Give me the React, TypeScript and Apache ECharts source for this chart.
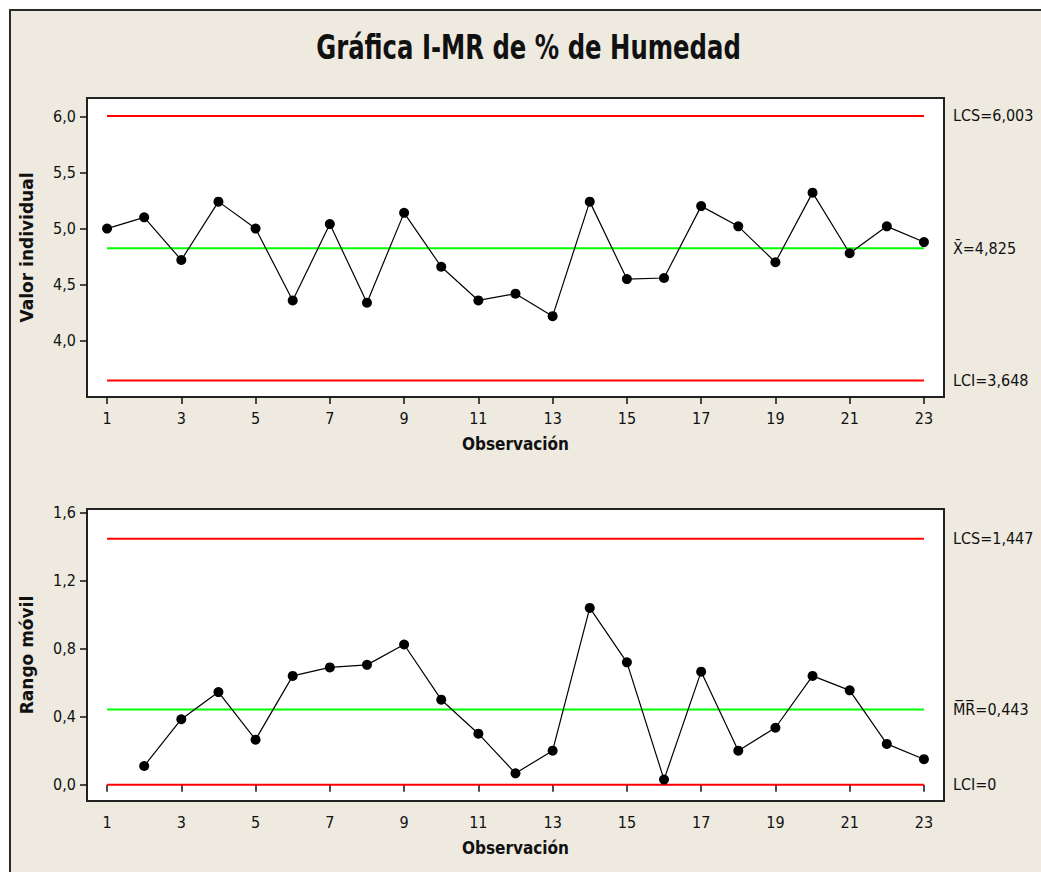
import React, { useEffect, useRef } from "react";
import * as echarts from "echarts";

// ---- Data ----
const observations = [1, 2, 3, 4, 5, 6, 7, 8, 9, 10, 11, 12, 13, 14, 15, 16, 17, 18, 19, 20, 21, 22, 23];
const individualValues = [5.0, 5.1, 4.72, 5.24, 5.0, 4.36, 5.04, 4.34, 5.14, 4.66, 4.36, 4.42, 4.22, 5.24, 4.55, 4.56, 5.2, 5.02, 4.7, 5.32, 4.78, 5.02, 4.88];
const movingRanges = [null, 0.11, 0.385, 0.545, 0.265, 0.64, 0.69, 0.705, 0.825, 0.5, 0.3, 0.067, 0.2, 1.04, 0.72, 0.03, 0.665, 0.2, 0.335, 0.64, 0.555, 0.24, 0.15];

const xTicks = [1, 3, 5, 7, 9, 11, 13, 15, 17, 19, 21, 23];
const iTicks = [4.0, 4.5, 5.0, 5.5, 6.0];
const mrTicks = [0.0, 0.4, 0.8, 1.2, 1.6];

const iLimitValues = [6.003, 4.825, 3.648];
const iLimitLabels = ["LCS=6,003", "X\u0304=4,825", "LCI=3,648"];
const mrLimitValues = [1.447, 0.443, 0];
const mrLimitLabels = ["LCS=1,447", "M\u0305R\u0305=0,443", "LCI=0"];
const limitColors = ["#FF0000", "#00FF00", "#FF0000"];

const TITLE = "Gráfica I-MR de % de Humedad";
const FONT = "'DejaVu Sans Condensed', 'Liberation Sans Narrow', 'DejaVu Sans', sans-serif";
const BG = "#EEEAE0";

const fmt1 = (v: number) => v.toFixed(1).replace(".", ",");

export default function App() {
  const ref = useRef<HTMLDivElement>(null);

  useEffect(() => {
    if (!ref.current) return;
    const chart = echarts.init(ref.current, null, { renderer: "svg" });

    const first = observations[0];
    const last = observations[observations.length - 1];

    const makeLimitSeries = (
      values: number[],
      labels: string[],
      xAxisIndex: number,
      yAxisIndex: number
    ) =>
      values.map((v, i) => ({
        type: "line",
        xAxisIndex,
        yAxisIndex,
        data: [
          [first, v],
          [last, v],
        ],
        showSymbol: false,
        symbol: "none",
        silent: true,
        z: 1,
        lineStyle: { color: limitColors[i], width: 2 },
        endLabel: {
          show: true,
          formatter: labels[i],
          distance: 29,
          color: "#111",
          fontSize: 16,
          fontFamily: FONT,
        },
      }));

    const xAxisBase = (gridIndex: number) => ({
      type: "value",
      gridIndex,
      min: 0.46,
      max: 23.54,
      name: "Observación",
      nameLocation: "middle",
      nameGap: 38,
      nameTextStyle: { color: "#111", fontSize: 17, fontWeight: "bold", fontFamily: FONT },
      axisLine: { show: false },
      splitLine: { show: false },
      axisTick: {
        show: true,
        inside: false,
        length: 7,
        customValues: xTicks,
        lineStyle: { color: "#111", width: 1.5 },
      },
      axisLabel: {
        customValues: xTicks,
        margin: 13,
        color: "#111",
        fontSize: 16,
        fontFamily: FONT,
      },
    });

    const yAxisBase = (
      gridIndex: number,
      min: number,
      max: number,
      ticks: number[],
      name: string
    ) => ({
      type: "value",
      gridIndex,
      min,
      max,
      name,
      nameLocation: "middle",
      nameGap: 52,
      nameTextStyle: {
        color: "#111",
        fontSize: 17,
        fontWeight: "bold",
        fontFamily: "'DejaVu Sans', sans-serif",
      },
      axisLine: { show: false },
      splitLine: { show: false },
      axisTick: {
        show: true,
        inside: false,
        length: 7,
        customValues: ticks,
        lineStyle: { color: "#111", width: 1.5 },
      },
      axisLabel: {
        customValues: ticks,
        margin: 11,
        color: "#111",
        fontSize: 16,
        fontFamily: FONT,
        formatter: (v: number) => fmt1(v),
      },
    });

    const dataSeries = (data: (number | null)[], xAxisIndex: number, yAxisIndex: number) => ({
      type: "line",
      xAxisIndex,
      yAxisIndex,
      data: observations.map((o, i) => [o, data[i]]),
      connectNulls: false,
      symbol: "circle",
      symbolSize: 10,
      showAllSymbol: true,
      z: 5,
      itemStyle: { color: "#000" },
      lineStyle: { color: "#000", width: 1.2 },
    });

    chart.setOption({
      animation: false,
      backgroundColor: BG,
      graphic: [
        { type: "rect", shape: { x: 0, y: 0, width: 1041, height: 9 }, style: { fill: "#fff" }, silent: true },
        { type: "rect", shape: { x: 0, y: 0, width: 9, height: 872 }, style: { fill: "#fff" }, silent: true },
        { type: "line", shape: { x1: 9, y1: 10, x2: 1041, y2: 10 }, style: { stroke: "#2a2a2a", lineWidth: 2 }, silent: true },
        { type: "line", shape: { x1: 10, y1: 9, x2: 10, y2: 872 }, style: { stroke: "#2a2a2a", lineWidth: 2 }, silent: true },
        {
          type: "text",
          x: 528.5,
          y: 48,
          scaleX: 0.82,
          scaleY: 1,
          silent: true,
          style: {
            text: TITLE,
            fill: "#111",
            fontSize: 33,
            fontWeight: "bold",
            fontFamily: FONT,
            textAlign: "center",
            textVerticalAlign: "middle",
          },
        },
      ],
      grid: [
        {
          left: 87,
          top: 98,
          width: 857,
          height: 299,
          show: true,
          backgroundColor: "#fff",
          borderColor: "#222",
          borderWidth: 2,
        },
        {
          left: 87,
          top: 509,
          width: 857,
          height: 292,
          show: true,
          backgroundColor: "#fff",
          borderColor: "#222",
          borderWidth: 2,
        },
      ],
      xAxis: [xAxisBase(0), xAxisBase(1)],
      yAxis: [
        yAxisBase(0, 3.5, 6.163, iTicks, "Valor individual"),
        yAxisBase(1, -0.096, 1.622, mrTicks, "Rango móvil"),
      ],
      series: [
        ...makeLimitSeries(iLimitValues, iLimitLabels, 0, 0),
        ...makeLimitSeries(mrLimitValues, mrLimitLabels, 1, 1),
        dataSeries(individualValues, 0, 0),
        dataSeries(movingRanges, 1, 1),
      ],
    } as any);

    return () => chart.dispose();
  }, []);

  return (
    <div
      ref={ref}
      style={{ position: "fixed", left: 0, top: 0, width: 1041, height: 872 }}
    />
  );
}
